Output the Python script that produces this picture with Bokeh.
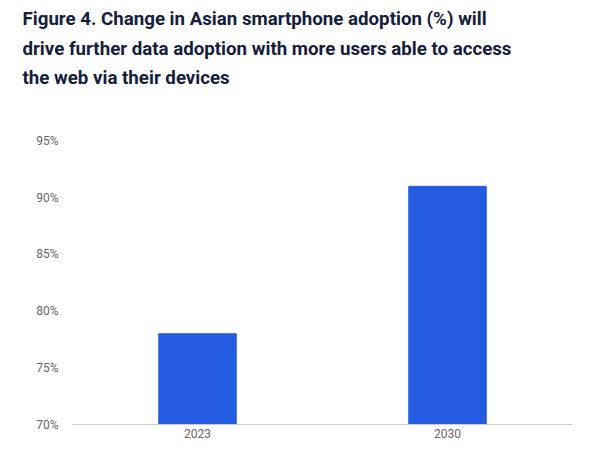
from bokeh.plotting import figure
from bokeh.models import FixedTicker, PrintfTickFormatter, Range1d
from bokeh.embed import file_html
from bokeh.resources import INLINE

years = ["2023", "2030"]
adoption = [78, 91]
y_ticks = [70, 75, 80, 85, 90, 95]

title_text = ("Figure 4. Change in Asian smartphone adoption (%) will\n"
              "drive further data adoption with more users able to access\n"
              "the web via their devices")

p = figure(x_range=years, y_range=Range1d(70, 99.1), width=575, height=440,
           title=title_text, output_backend="svg", toolbar_location=None,
           min_border_left=72, min_border_right=3, min_border_bottom=0,
           min_border_top=0)

p.vbar(x=years, top=adoption, bottom=70, width=0.31, color="#245be3")

p.title.text_font = "Roboto"
p.title.text_font_size = "18.7px"
p.title.text_font_style = "bold"
p.title.text_color = "#14203a"
p.title.text_line_height = 1.36
p.title.offset = -50

p.yaxis.ticker = FixedTicker(ticks=y_ticks)
p.yaxis.formatter = PrintfTickFormatter(format="%d%%")
p.yaxis.axis_line_color = None
p.yaxis.major_tick_line_color = None
p.yaxis.minor_tick_line_color = None
p.yaxis.major_tick_out = 0
p.yaxis.major_label_text_font = "Roboto"
p.yaxis.major_label_text_font_size = "12px"
p.yaxis.major_label_text_color = "#666666"
p.yaxis.major_label_standoff = 14

p.xaxis.axis_line_color = "#cccccc"
p.xaxis.major_tick_line_color = None
p.xaxis.minor_tick_line_color = None
p.xaxis.major_tick_out = 0
p.xaxis.axis_label_standoff = 0
p.xaxis.major_label_text_font = "Roboto"
p.xaxis.major_label_text_font_size = "12px"
p.xaxis.major_label_text_color = "#666666"
p.xaxis.major_label_standoff = 4

p.xgrid.grid_line_color = None
p.ygrid.grid_line_color = None
p.outline_line_color = None

open("out.html", "w").write(file_html(p, INLINE))
